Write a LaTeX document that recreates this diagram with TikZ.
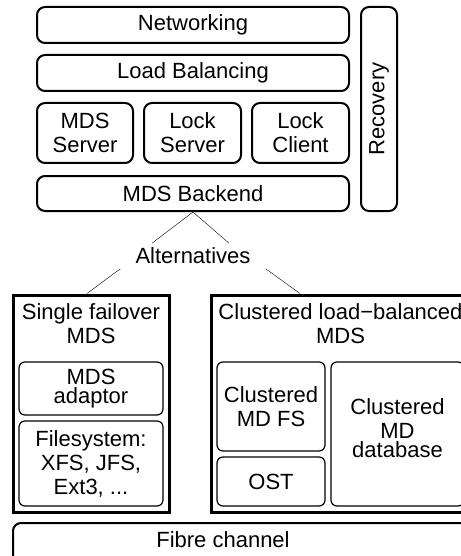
\documentclass[tikz,border=0pt]{standalone}
\usepackage{fontspec}
\setmainfont{Liberation Sans}
\usepackage{tikz}
\usetikzlibrary{shapes}

\begin{document}
\begin{tikzpicture}[x=1pt,y=-1pt]
				\tikzset{every node/.style={align=center,inner sep=0pt,font=\fontsize{22}{24}\selectfont}}
				\tikzset{layer/.style={draw,rounded corners=8pt,line width=2pt}}
				\tikzset{part/.style={draw,rounded corners=6pt,line width=1.2pt}}
				\tikzset{choice/.style={draw,line width=3pt}}
				\useasboundingbox (0,0) rectangle (460,556);
				% server stack
				\node[layer,minimum width=312pt,minimum height=36pt] (net) at (193,25) {Networking};
				\node[layer,minimum width=312pt,minimum height=36pt] (lb) at (193,73) {Load Balancing};
				\node[layer,minimum width=96pt,minimum height=60pt] (mdss) at (85,133) {MDS\\Server};
				\node[layer,minimum width=97pt,minimum height=60pt] (locks) at (192.5,133) {Lock\\Server};
				\node[layer,minimum width=97pt,minimum height=60pt] (lockc) at (300.5,133) {Lock\\Client};
				\node[layer,minimum width=312pt,minimum height=35pt] (backend) at (193,193.5) {MDS Backend};
				\node[layer,rotate=90,minimum width=204pt,minimum height=36pt] (recovery) at (379,109) {Recovery};
				% the two choices
				\node[inner xsep=15pt,inner ysep=4.5pt] (alt) at (193,256) {Alternatives};
				\node[choice,minimum width=156pt,minimum height=217pt] (single) at (91,403.5) {};
				\node (singletitle) at (91,324) {Single failover\\MDS};
				\node[part,minimum width=144pt,minimum height=53pt] (adaptor) at (91,388.5) {MDS\\[-5pt]adaptor};
				\node[part,minimum width=144pt,minimum height=85pt] (fs) at (91,463.5) {Filesystem:\\XFS, JFS,\\Ext3, ...};
				\node[choice,minimum width=259pt,minimum height=217pt] (clustered) at (340.5,403.5) {};
				\node (clusteredtitle) at (340.5,324) {Clustered load−balanced\\MDS};
				\node[part,minimum width=108pt,minimum height=89pt] (mdfs) at (271,406.5) {Clustered\\MD FS};
				\node[part,minimum width=108pt,minimum height=49pt] (ost) at (271,481.5) {OST};
				\node[part,minimum width=133pt,minimum height=144pt] (mddb) at (397.5,434) {};
				\node (mddbtext) at (397.5,428) {Clustered\\MD\\[-5pt]database};
				\node[layer,minimum width=467pt,minimum height=47pt] (fibre) at (246.5,546.5) {};
				\node (fibretext) at (223,540) {Fibre channel};
				\draw (backend.south) -- ([xshift=-41pt]alt.north);
				\draw (backend.south) -- ([xshift=36pt]alt.north);
				\draw (alt.south west) -- ([xshift=-4pt]single.north);
				\draw (alt.south east) -- ([xshift=-40.5pt]clustered.north);
\end{tikzpicture}
\end{document}
